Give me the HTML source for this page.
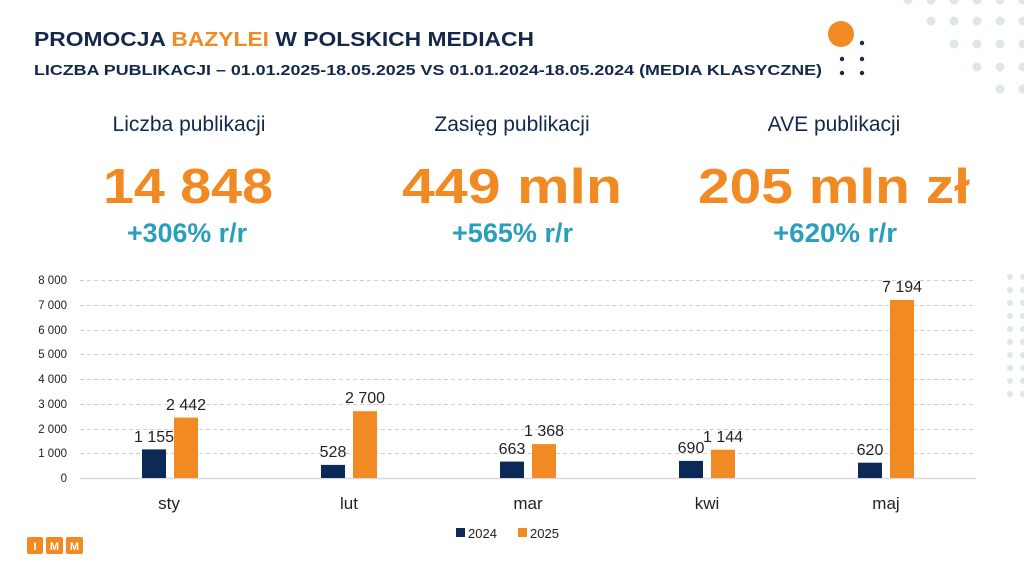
<!DOCTYPE html>
<html><head><meta charset="utf-8"><style>
html,body{margin:0;padding:0;background:#fff;}
svg{display:block;font-family:"Liberation Sans",sans-serif;}
</style></head><body>
<svg width="1024" height="576" viewBox="0 0 1024 576">
<g fill="#dde8e5">
<circle cx="908" cy="0" r="4.5"/><circle cx="931" cy="0" r="4.5"/><circle cx="954" cy="0" r="4.5"/><circle cx="977" cy="0" r="4.5"/><circle cx="1000" cy="0" r="4.5"/><circle cx="1023" cy="0" r="4.5"/>
<circle cx="931" cy="21" r="4.5"/><circle cx="954" cy="21" r="4.5"/><circle cx="977" cy="21" r="4.5"/><circle cx="1000" cy="21" r="4.5"/><circle cx="1023" cy="21" r="4.5"/>
<circle cx="954" cy="44" r="4.5"/><circle cx="977" cy="44" r="4.5"/><circle cx="1000" cy="44" r="4.5"/><circle cx="1023" cy="44" r="4.5"/>
<circle cx="977" cy="67" r="4.5"/><circle cx="1000" cy="67" r="4.5"/><circle cx="1023" cy="67" r="4.5"/>
<circle cx="1000" cy="89" r="4.5"/><circle cx="1023" cy="89" r="4.5"/>
<circle cx="1010" cy="277" r="3"/><circle cx="1010" cy="290" r="3"/><circle cx="1010" cy="303" r="3"/><circle cx="1010" cy="316" r="3"/><circle cx="1010" cy="329" r="3"/><circle cx="1010" cy="342" r="3"/><circle cx="1010" cy="355" r="3"/><circle cx="1010" cy="368" r="3"/><circle cx="1010" cy="381" r="3"/><circle cx="1010" cy="394" r="3"/>
<circle cx="1023" cy="277" r="3"/><circle cx="1023" cy="290" r="3"/><circle cx="1023" cy="303" r="3"/><circle cx="1023" cy="316" r="3"/><circle cx="1023" cy="329" r="3"/><circle cx="1023" cy="342" r="3"/><circle cx="1023" cy="355" r="3"/><circle cx="1023" cy="368" r="3"/><circle cx="1023" cy="381" r="3"/><circle cx="1023" cy="394" r="3"/>
</g>
<circle cx="841" cy="34" r="13" fill="#f28a24"/>
<g fill="#13294b"><circle cx="862" cy="43" r="2.2"/><circle cx="842" cy="59" r="2.2"/><circle cx="862" cy="59" r="2.2"/><circle cx="842" cy="73" r="2.2"/><circle cx="862" cy="73" r="2.2"/></g>

<text x="34" y="46" font-size="20" font-weight="bold" fill="#13294b" textLength="500" lengthAdjust="spacingAndGlyphs">PROMOCJA <tspan fill="#f28a24">BAZYLEI</tspan> W POLSKICH MEDIACH</text>
<text x="34" y="75" font-size="15" font-weight="bold" fill="#13294b" textLength="788" lengthAdjust="spacingAndGlyphs">LICZBA PUBLIKACJI – 01.01.2025-18.05.2025  VS 01.01.2024-18.05.2024  (MEDIA KLASYCZNE)</text>

<g text-anchor="middle">
<text x="189" y="131" font-size="21" fill="#13294b">Liczba publikacji</text>
<text x="512" y="131" font-size="21" fill="#13294b">Zasięg publikacji</text>
<text x="834" y="131" font-size="21" fill="#13294b">AVE publikacji</text>
</g>
<g font-size="49" font-weight="bold" fill="#f28a24">
<text x="103" y="203" textLength="170" lengthAdjust="spacingAndGlyphs">14 848</text>
<text x="402" y="203" textLength="220" lengthAdjust="spacingAndGlyphs">449 mln</text>
<text x="698" y="203" textLength="272" lengthAdjust="spacingAndGlyphs">205 mln zł</text>
</g>
<g font-size="27" font-weight="bold" fill="#2a9fbd">
<text x="127" y="242" textLength="120" lengthAdjust="spacingAndGlyphs">+306% r/r</text>
<text x="452" y="242" textLength="121" lengthAdjust="spacingAndGlyphs">+565% r/r</text>
<text x="773" y="242" textLength="124" lengthAdjust="spacingAndGlyphs">+620% r/r</text>
</g>

<g stroke="#d0d0d0" stroke-dasharray="4,3" stroke-width="1">
<line x1="80" x2="975" y1="280.5" y2="280.5"/><line x1="80" x2="975" y1="305.5" y2="305.5"/><line x1="80" x2="975" y1="330.5" y2="330.5"/><line x1="80" x2="975" y1="354.5" y2="354.5"/><line x1="80" x2="975" y1="379.5" y2="379.5"/><line x1="80" x2="975" y1="404.5" y2="404.5"/><line x1="80" x2="975" y1="429.5" y2="429.5"/><line x1="80" x2="975" y1="453.5" y2="453.5"/>
</g>
<line x1="80" x2="976" y1="478.5" y2="478.5" stroke="#d9d9d9" stroke-width="1.5"/>
<g font-size="11.5" fill="#222" text-anchor="end">
<text x="67" y="284">8 000</text><text x="67" y="309">7 000</text><text x="67" y="334">6 000</text><text x="67" y="358">5 000</text><text x="67" y="383">4 000</text><text x="67" y="408">3 000</text><text x="67" y="433">2 000</text><text x="67" y="457">1 000</text><text x="67" y="482">0</text>
</g>
<g fill="#0b2a55">
<rect x="142" y="449.4" width="24" height="28.6"/>
<rect x="321" y="464.9" width="24" height="13.1"/>
<rect x="500" y="461.6" width="24" height="16.4"/>
<rect x="679" y="460.9" width="24" height="17.1"/>
<rect x="858" y="462.7" width="24" height="15.3"/>
</g>
<g fill="#f28a24">
<rect x="174" y="417.6" width="24" height="60.4"/>
<rect x="353" y="411.2" width="24" height="66.8"/>
<rect x="532" y="444.1" width="24" height="33.9"/>
<rect x="711" y="449.7" width="24" height="28.3"/>
<rect x="890" y="300" width="24" height="178"/>
</g>
<g font-size="16" fill="#222" text-anchor="middle">
<text x="154" y="442">1 155</text><text x="186" y="410">2 442</text>
<text x="333" y="457">528</text><text x="365" y="403">2 700</text>
<text x="512" y="454">663</text><text x="544" y="436">1 368</text>
<text x="691" y="453">690</text><text x="723" y="442">1 144</text>
<text x="870" y="455">620</text><text x="902" y="292">7 194</text>
<text x="169" y="509" font-size="17">sty</text>
<text x="349" y="509" font-size="17">lut</text>
<text x="528" y="509" font-size="17">mar</text>
<text x="707" y="509" font-size="17">kwi</text>
<text x="886" y="509" font-size="17">maj</text>
</g>
<rect x="456" y="528" width="9" height="9" fill="#0b2a55"/>
<text x="468" y="538" font-size="13" fill="#222">2024</text>
<rect x="518" y="528" width="9" height="9" fill="#f28a24"/>
<text x="530" y="538" font-size="13" fill="#222">2025</text>

<g fill="#f28a24"><rect x="27" y="537" width="16" height="17" rx="2"/><rect x="46" y="537" width="17" height="17" rx="2"/><rect x="66" y="537" width="17" height="17" rx="2"/></g>
<g fill="#fff" font-size="11" font-weight="bold" text-anchor="middle"><text x="35" y="550">I</text><text x="54.5" y="550">M</text><text x="74.5" y="550">M</text></g>
</svg>
</body></html>
